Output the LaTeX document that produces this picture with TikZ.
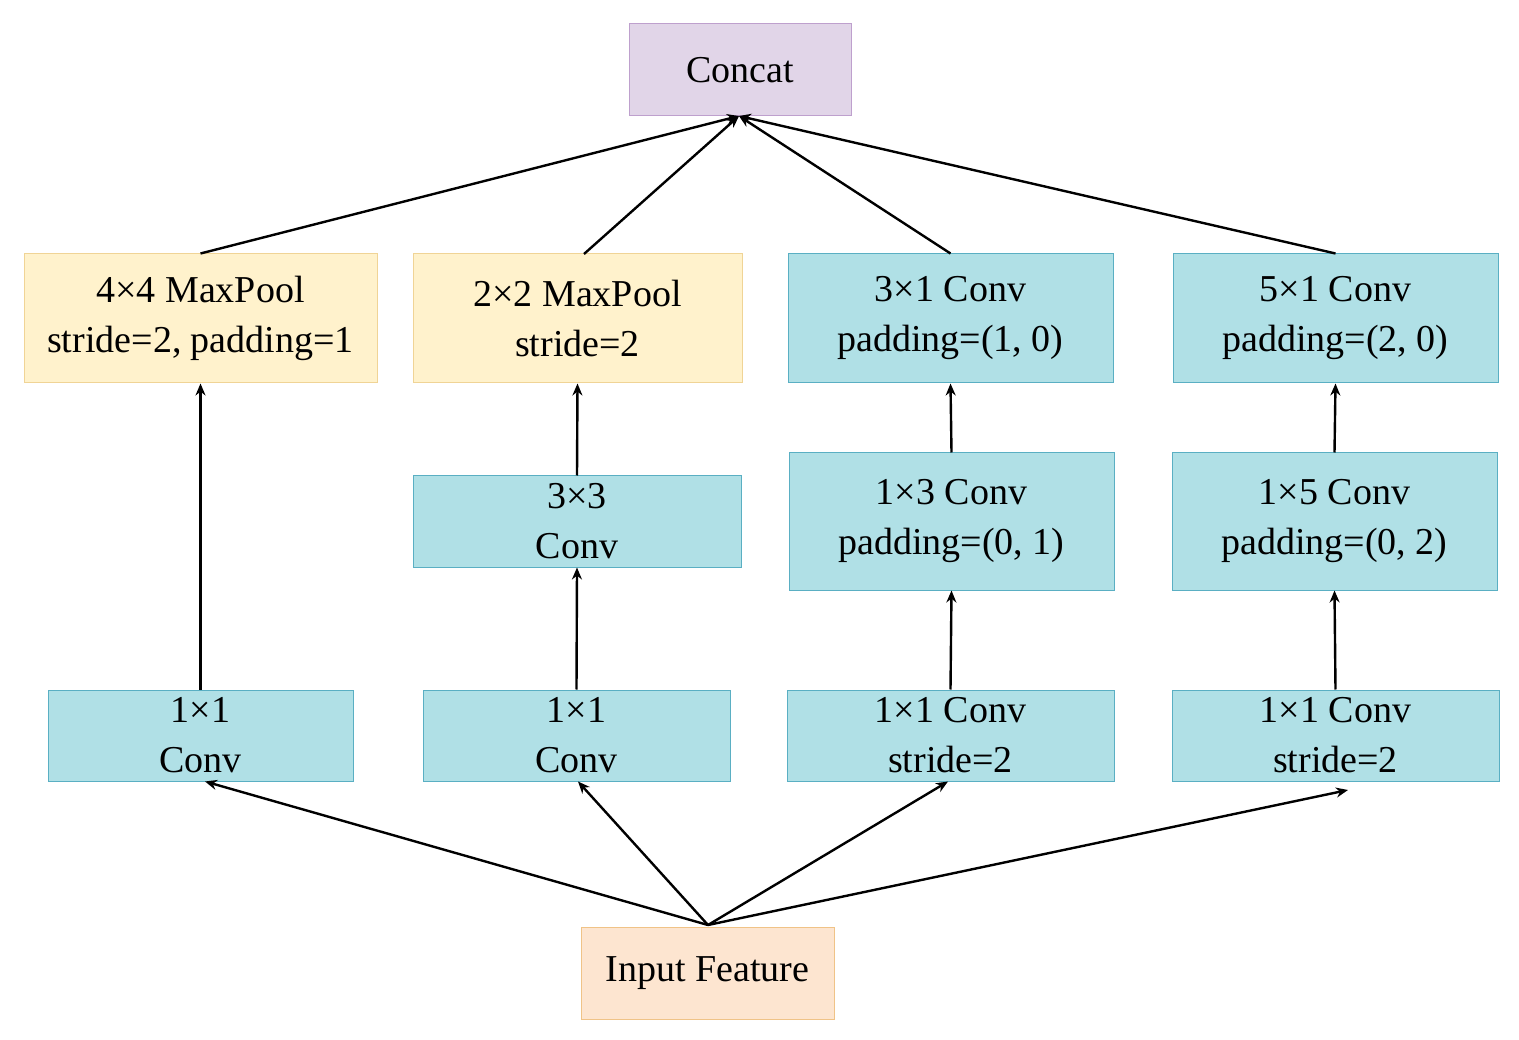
\documentclass[tikz,border=0pt]{standalone}
\usepackage{fontspec}
\setmainfont{Liberation Serif}
\usetikzlibrary{arrows.meta}
\definecolor{tealf}{RGB}{176,224,230}
\definecolor{teald}{RGB}{90,175,195}
\definecolor{yelf}{RGB}{255,242,204}
\definecolor{yeld}{RGB}{240,212,150}
\definecolor{purf}{RGB}{225,213,232}
\definecolor{purd}{RGB}{190,160,205}
\definecolor{orf}{RGB}{253,229,208}
\definecolor{ord}{RGB}{240,195,135}
\begin{document}
\begin{tikzpicture}[x=1pt,y=-1pt,
 box/.style={draw,line width=1pt,inner sep=0pt,align=center,font=\fontsize{38}{50}\selectfont},
 tb/.style={box,fill=tealf,draw=teald},
 yb/.style={box,fill=yelf,draw=yeld},
 arr/.style={line width=2.4pt,-{Stealth[length=12pt,width=10pt]}}]
\useasboundingbox (0,0) rectangle (1519,1040);
\node[box,fill=purf,draw=purd,minimum width=222,minimum height=92] (cc) at (740,70) {Concat};
\node[yb,minimum width=353,minimum height=129] (a1) at (200.5,318.5) {4×4 MaxPool\\stride=2, padding=1};
\node[yb,minimum width=329,minimum height=129] (b1) at (577.5,318.5) {2×2 MaxPool\\stride=2};
\node[tb,minimum width=325,minimum height=129] (c1) at (950.5,318.5) {3×1 Conv\\padding=(1, 0)};
\node[tb,minimum width=325,minimum height=129] (d1) at (1335.5,318.5) {5×1 Conv\\padding=(2, 0)};
\node[tb,minimum width=328,minimum height=91] (b2) at (577,521.5) {3×3\\Conv};
\node[tb,minimum width=325,minimum height=137] (c2) at (951.5,521.5) {1×3 Conv\\padding=(0, 1)};
\node[tb,minimum width=325,minimum height=137] (d2) at (1334.5,521.5) {1×5 Conv\\padding=(0, 2)};
\node[tb,minimum width=305,minimum height=91] (a3) at (200.5,735.5) {1×1\\Conv};
\node[tb,minimum width=307,minimum height=91] (b3) at (576.5,735.5) {1×1\\Conv};
\node[tb,minimum width=327,minimum height=91] (c3) at (950.5,735.5) {1×1 Conv\\stride=2};
\node[tb,minimum width=327,minimum height=91] (d3) at (1335.5,735.5) {1×1 Conv\\stride=2};
\node[box,fill=orf,draw=ord,minimum width=253,minimum height=92] (in) at (707.5,973) {Input Feature};
\coordinate (src) at (708,925);
\coordinate (dst) at (739,116);
\draw[arr] (src) -- (a3.south -| 205,0);
\draw[arr] (src) -- (b3.south -| 578,0);
\draw[arr] (src) -- (c3.south -| 948,0);
\draw[arr] (src) -- (1348,790);
\draw[arr] (a3.north) -- (a1.south);
\draw[arr] (b3.north) -- (b2.south);
\draw[arr] (b2.north) -- (b1.south);
\draw[arr] (c3.north) -- (c2.south);
\draw[arr] (c2.north) -- (c1.south);
\draw[arr] (d3.north) -- (d2.south);
\draw[arr] (d2.north) -- (d1.south);
\draw[arr] (a1.north) -- (dst);
\draw[arr] (584,254) -- (dst);
\draw[arr] (c1.north) -- (dst);
\draw[arr] (d1.north) -- (dst);
\end{tikzpicture}
\end{document}
